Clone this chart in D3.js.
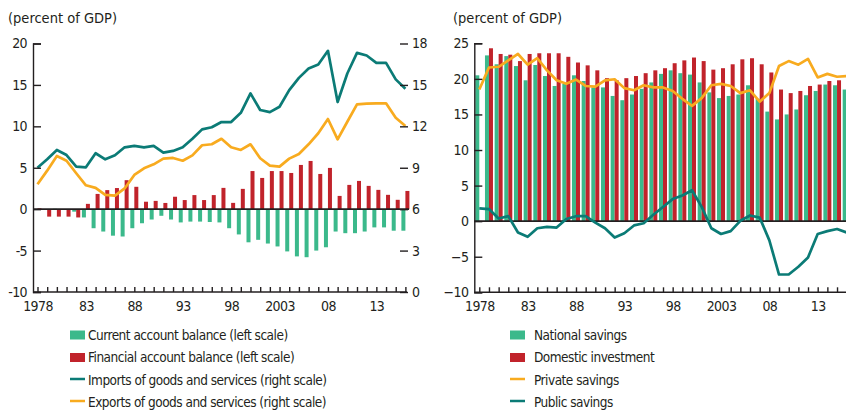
<!DOCTYPE html>
<html>
<head>
<meta charset="utf-8">
<script src="https://cdn.jsdelivr.net/npm/d3@7"></script>
<style>
  body { margin: 0; background: #fff; }
  svg text { font-family: "Liberation Sans Narrow", "DejaVu Sans Condensed", "Roboto Condensed", sans-serif; fill: #231f20; }
</style>
</head>
<body>
<div id="chart"></div>
<script>
// years on the x axis, 1978..2016
const years = d3.range(1978, 2017);
const yearLabels = { 1978: "1978", 1983: "83", 1988: "88", 1993: "93", 1998: "98", 2003: "2003", 2008: "08", 2013: "13" };

// left panel (percent of GDP)
const currentAccount = [0.0, -0.1, 0.05, -0.1, -0.3, -1.0, -2.3, -2.7, -3.2, -3.3,
  -2.3, -1.7, -1.25, -0.8, -1.25, -1.6, -1.5, -1.5, -1.55, -1.6,
  -2.3, -3.05, -4.0, -3.7, -4.15, -4.5, -5.1, -5.7, -5.8, -5.0,
  -4.6, -2.7, -2.9, -2.9, -2.7, -2.2, -2.2, -2.6, -2.6];
const financialAccount = [0.1, -0.9, -0.9, -0.9, -1.0, 0.64, 1.84, 2.3, 2.55, 3.5,
  2.7, 0.9, 1.0, 0.75, 1.5, 1.1, 1.7, 1.1, 1.7, 2.57,
  0.76, 2.45, 4.6, 3.77, 4.6, 4.6, 4.37, 5.34, 5.82, 4.25,
  4.98, 1.6, 2.93, 3.41, 2.81, 2.33, 1.73, 1.13, 2.2];
const imports = [9.0, 9.61, 10.29, 9.92, 9.08, 9.03, 10.05, 9.61, 9.9, 10.48,
  10.58, 10.48, 10.58, 10.1, 10.22, 10.48, 11.1, 11.78, 11.93, 12.31,
  12.31, 12.98, 14.39, 13.18, 13.03, 13.42, 14.62, 15.51, 16.19, 16.48,
  17.47, 13.76, 15.83, 17.32, 17.13, 16.6, 16.6, 15.4, 14.72];
const exports = [7.81, 8.79, 9.85, 9.51, 8.6, 7.73, 7.54, 7.03, 6.98, 7.5,
  8.48, 8.96, 9.25, 9.66, 9.71, 9.51, 9.9, 10.63, 10.7, 11.1,
  10.48, 10.29, 10.7, 9.69, 9.15, 9.08, 9.66, 10.0, 10.7, 11.5,
  12.53, 11.06, 12.33, 13.59, 13.64, 13.66, 13.67, 12.62, 12.02];

// right panel (percent of GDP)
const nationalSavings = [20.5, 23.3, 22.05, 23.2, 21.8, 19.8, 21.95, 20.4, 19.0, 19.3,
  20.5, 19.7, 18.8, 18.8, 17.6, 17.0, 17.8, 18.6, 19.5, 20.7,
  21.2, 20.8, 20.6, 19.5, 18.1, 17.3, 17.6, 17.8, 19.1, 17.2,
  15.4, 14.3, 15.0, 15.7, 17.7, 18.3, 19.2, 19.1, 18.5];
const domesticInvestment = [null, 24.3, 23.5, 23.4, 22.5, 23.5, 23.6, 23.6, 23.6, 23.1,
  22.3, 21.9, 21.2, 20.1, 19.8, 20.1, 20.4, 20.8, 21.2, 21.5,
  22.2, 22.6, 23.0, 22.5, 21.3, 21.5, 22.05, 22.75, 22.9, 22.05,
  20.9, 18.5, 18.0, 18.3, 19.0, 19.2, 19.7, 19.8, 19.5];
const privateSavings = [18.5, 21.6, 21.7, 22.6, 23.5, 22.0, 22.9, 21.2, 19.8, 19.3,
  19.9, 19.0, 18.9, 19.8, 19.95, 18.7, 18.4, 19.1, 18.8, 18.8,
  18.3, 17.2, 16.2, 17.3, 19.1, 19.3, 19.0, 18.0, 18.4, 16.8,
  18.0, 21.8, 22.5, 22.0, 22.8, 20.2, 20.7, 20.3, 20.4];
const publicSavings = [1.8, 1.7, 0.37, 0.7, -1.6, -2.2, -1.0, -0.8, -0.9, 0.3,
  0.7, 0.7, -0.2, -1.0, -2.3, -1.7, -0.6, -0.3, 0.9, 2.0,
  3.1, 3.6, 4.35, 2.0, -1.0, -1.8, -1.4, 0.05, 0.8, 0.5,
  -2.7, -7.5, -7.5, -6.4, -5.1, -1.8, -1.4, -1.1, -1.6];

const leftTicks = [-10, -5, 0, 5, 10, 15, 20];
const leftRightTicks = [0, 3, 6, 9, 12, 15, 18];
const rightTicks = [-10, -5, 0, 5, 10, 15, 20, 25];

const leftLegend = ["Current account balance (left scale)", "Financial account balance (left scale)",
  "Imports of goods and services (right scale)", "Exports of goods and services (right scale)"];
const rightLegend = ["National savings", "Domestic investment", "Private savings", "Public savings"];

const GREEN = "#3bb98b", RED = "#c1232b", TEAL = "#0b7b76", ORANGE = "#f8ab1f", INK = "#231f20";
const FONT = '"Liberation Sans Narrow", "DejaVu Sans Condensed", sans-serif';

const svg = d3.select("#chart").append("svg")
  .attr("width", 846)
  .attr("height", 412);

function bars(g, x, y, values, color, offset) {
  g.append("g").selectAll("rect")
    .data(years.map((yr, i) => ({ yr, v: values[i] })).filter(d => d.v != null))
    .join("rect")
    .attr("fill", color)
    .attr("x", d => x(d.yr) + offset)
    .attr("width", 4)
    .attr("y", d => y(Math.max(0, d.v)))
    .attr("height", d => Math.abs(y(d.v) - y(0)));
}

function line(g, x, y, values, color) {
  g.append("path")
    .datum(values)
    .attr("fill", "none")
    .attr("stroke", color)
    .attr("stroke-width", 2.7)
    .attr("stroke-linejoin", "round")
    .attr("d", d3.line().x((d, i) => x(years[i])).y(d => y(d)));
}

function styleAxis(g) {
  g.attr("font-size", 14).attr("font-family", FONT).attr("color", INK);
  g.selectAll("text").attr("letter-spacing", -0.6);
  g.selectAll("line,path").attr("stroke-width", 1.4);
}

function xAxis(x, x0, x1, yBase) {
  const g = svg.append("g")
    .attr("transform", `translate(0,${yBase})`)
    .call(d3.axisBottom(x).tickValues(years).tickSize(-5).tickPadding(9)
      .tickFormat(d => yearLabels[d] || ""));
  g.select(".domain").remove();
  styleAxis(g);
  svg.append("line")
    .attr("x1", x0).attr("x2", x1)
    .attr("y1", yBase).attr("y2", yBase)
    .attr("stroke", INK).attr("stroke-width", 1.4);
}

function legend(x, labels, kinds) {
  const rowY = [335, 357.5, 380, 402];
  labels.forEach((label, i) => {
    const k = kinds[i];
    if (k.type === "bar") {
      svg.append("rect").attr("x", x).attr("y", rowY[i] - 4.5)
        .attr("width", 15).attr("height", 9).attr("fill", k.color);
    } else {
      svg.append("line").attr("x1", x).attr("x2", x + 15)
        .attr("y1", rowY[i] - 1).attr("y2", rowY[i] - 1)
        .attr("stroke", k.color).attr("stroke-width", 2.5);
    }
    svg.append("text")
      .attr("x", x + k.gap)
      .attr("y", rowY[i])
      .attr("dy", "0.35em")
      .attr("font-size", 13.5)
      .attr("letter-spacing", -0.5)
      .text(label);
  });
}

// ---------- left panel ----------
const xL = d3.scaleLinear().domain([1978, 2016]).range([37.5, 405.4]);
const yL = d3.scaleLinear().domain([-10, 20]).range([292, 43.5]);
const yL2 = d3.scaleLinear().domain([0, 18]).range([292, 43.5]);

svg.append("text").attr("x", 8).attr("y", 23).attr("font-size", 14.5).text("(percent of GDP)");

const pL = svg.append("g");
bars(pL, xL, yL, currentAccount, GREEN, -4);
bars(pL, xL, yL, financialAccount, RED, 0);
pL.append("line")
  .attr("x1", 33).attr("x2", 409)
  .attr("y1", yL(0)).attr("y2", yL(0))
  .attr("stroke", INK).attr("stroke-width", 1.6);
line(pL, xL, yL2, imports, TEAL);
line(pL, xL, yL2, exports, ORANGE);

const gl = svg.append("g")
  .attr("transform", "translate(33,0)")
  .call(d3.axisLeft(yL).tickValues(leftTicks).tickSize(-8).tickPadding(6).tickFormat(d => String(d)));
styleAxis(gl);

const gr = svg.append("g")
  .attr("transform", "translate(408,0)")
  .call(d3.axisRight(yL2).tickValues(leftRightTicks).tickSize(-8).tickPadding(4));
gr.select(".domain").remove();
styleAxis(gr);

xAxis(xL, 33, 407, 292);

legend(70, leftLegend, [
  { type: "bar", color: GREEN, gap: 18 },
  { type: "bar", color: RED, gap: 18 },
  { type: "line", color: TEAL, gap: 18 },
  { type: "line", color: ORANGE, gap: 18 }
]);

// ---------- right panel ----------
const xR = d3.scaleLinear().domain([1978, 2016]).range([479.3, 846.7]);
const yR = d3.scaleLinear().domain([-10, 25]).range([292.3, 43.3]);

svg.append("text").attr("x", 453).attr("y", 23).attr("font-size", 14.5).text("(percent of GDP)");

const pR = svg.append("g");
bars(pR, xR, yR, nationalSavings, GREEN, -4);
bars(pR, xR, yR, domesticInvestment, RED, 0);
pR.append("line")
  .attr("x1", 474).attr("x2", 846)
  .attr("y1", yR(0)).attr("y2", yR(0))
  .attr("stroke", INK).attr("stroke-width", 1.6);
line(pR, xR, yR, privateSavings, ORANGE);
line(pR, xR, yR, publicSavings, TEAL);

const gl2 = svg.append("g")
  .attr("transform", "translate(474.3,0)")
  .call(d3.axisLeft(yR).tickValues(rightTicks).tickSize(-8).tickPadding(6).tickFormat(d3.format("d")));
styleAxis(gl2);

xAxis(xR, 474.3, 846, 292.3);

legend(510, rightLegend, [
  { type: "bar", color: GREEN, gap: 24 },
  { type: "bar", color: RED, gap: 24 },
  { type: "line", color: ORANGE, gap: 24 },
  { type: "line", color: TEAL, gap: 24 }
]);
</script>
</body>
</html>
